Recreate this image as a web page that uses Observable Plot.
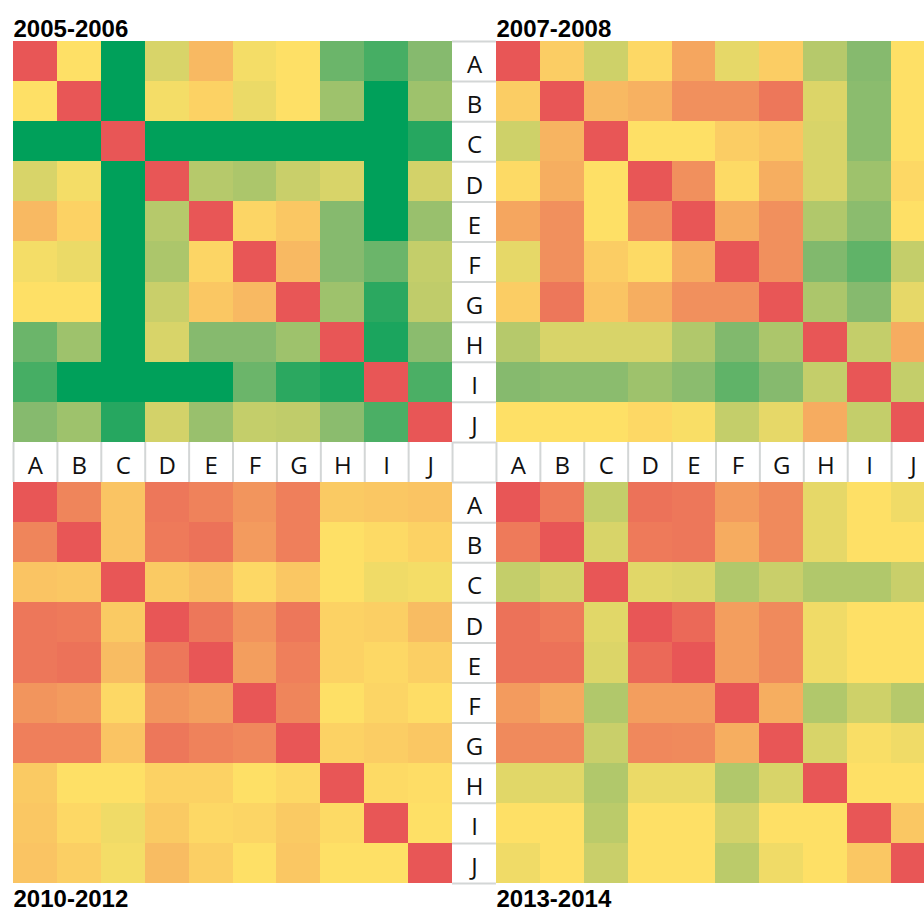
<!DOCTYPE html>
<html>
<head>
<meta charset="utf-8">
<script src="https://cdn.jsdelivr.net/npm/d3@7"></script>
<script src="https://cdn.jsdelivr.net/npm/@observablehq/plot@0.6"></script>
<style>
  html, body { margin: 0; padding: 0; background: white; }
  #chart { width: 924px; height: 913px; overflow: hidden; }
  #chart svg { max-width: none; }
</style>
</head>
<body>
<div id="chart"></div>
<script>
const labels = ["A", "B", "C", "D", "E", "F", "G", "H", "I", "J"];
const periods = ["2005-2006", "2007-2008", "2010-2012", "2013-2014"];

// 0 = red, 50 = yellow, 75 = mid green, 100 = dark green
const v2005 = [
  [0, 50, 100, 58, 36, 52, 50, 80, 87, 75],
  [50, 0, 100, 52, 45, 54, 50, 70, 100, 70],
  [100, 100, 0, 100, 100, 100, 100, 100, 100, 93],
  [58, 52, 100, 0, 65, 67, 61, 58, 100, 59],
  [36, 45, 100, 65, 0, 46, 41, 75, 100, 71],
  [52, 54, 100, 67, 46, 0, 36, 75, 80, 62],
  [50, 50, 100, 61, 41, 36, 0, 70, 92, 63],
  [80, 70, 100, 58, 75, 75, 70, 0, 95, 74],
  [87, 100, 100, 100, 100, 80, 92, 95, 0, 86],
  [75, 70, 93, 59, 71, 62, 63, 74, 86, 0]
];
const v2007 = [
  [0, 43, 60, 47, 29, 55, 43, 65, 75, 50],
  [43, 0, 36, 33, 21, 21, 12, 57, 74, 50],
  [60, 34, 0, 50, 50, 43, 40, 58, 74, 50],
  [48, 32, 50, 0, 21, 48, 32, 58, 70, 47],
  [29, 21, 50, 21, 0, 31, 21, 66, 74, 50],
  [55, 21, 43, 48, 31, 0, 21, 76, 82, 62],
  [43, 12, 40, 32, 21, 21, 0, 67, 75, 55],
  [65, 58, 58, 58, 66, 76, 67, 0, 62, 31],
  [75, 74, 74, 70, 74, 82, 75, 62, 0, 62],
  [50, 50, 50, 47, 51, 62, 55, 31, 62, 0]
];
const v2010 = [
  [0, 17, 40, 12, 16, 23, 15, 42, 41, 40],
  [17, 0, 40, 13, 10, 25, 15, 50, 48, 45],
  [40, 41, 0, 42, 38, 47, 41, 50, 53, 52],
  [12, 13, 42, 0, 12, 22, 12, 45, 44, 37],
  [12, 10, 37, 12, 0, 26, 15, 45, 47, 44],
  [23, 25, 47, 23, 26, 0, 17, 50, 46, 49],
  [15, 15, 40, 12, 16, 18, 0, 45, 43, 41],
  [42, 50, 50, 45, 45, 50, 47, 0, 48, 49],
  [41, 47, 53, 42, 47, 46, 42, 48, 0, 50],
  [40, 44, 52, 37, 44, 50, 41, 50, 50, 0]
];
const v2013 = [
  [0, 13, 62, 10, 12, 25, 19, 55, 50, 53],
  [13, 0, 58, 13, 12, 31, 19, 55, 50, 50],
  [62, 59, 0, 56, 57, 66, 61, 66, 66, 61],
  [10, 13, 56, 0, 7, 26, 19, 53, 50, 50],
  [10, 10, 57, 7, 0, 26, 19, 53, 50, 50],
  [25, 30, 66, 26, 26, 0, 32, 66, 60, 65],
  [19, 19, 61, 18, 19, 32, 0, 58, 51, 53],
  [56, 56, 66, 54, 54, 66, 58, 0, 50, 50],
  [50, 50, 64, 50, 50, 59, 50, 50, 0, 41],
  [53, 50, 61, 50, 50, 64, 53, 50, 41, 0]
];

// layout: 10 cells, 1 label lane, 10 cells in each direction
const n = labels.length;
const mid = n;            // index of the label lane
const total = 2 * n + 1;
const panels = [
  {name: periods[0], values: v2005, col: 0, row: 0, top: true},
  {name: periods[1], values: v2007, col: n + 1, row: 0, top: true},
  {name: periods[2], values: v2010, col: 0, row: n + 1, top: false},
  {name: periods[3], values: v2013, col: n + 1, row: n + 1, top: false}
];

const cells = [];
for (const p of panels) {
  p.values.forEach((rowVals, i) => {
    rowVals.forEach((v, j) => {
      cells.push({
        x1: p.col + j, x2: p.col + j + 1,
        y1: p.row + i, y2: p.row + i + 1,
        row: labels[i], col: labels[j], period: p.name, v
      });
    });
  });
}

const rowLabels = [];
const colLabels = [];
for (const off of [0, n + 1]) {
  labels.forEach((l, i) => {
    rowLabels.push({label: l, y: off + i + 0.5});
    colLabels.push({label: l, x: off + i + 0.5});
  });
}
const boundaries = d3.range(total + 1);

const gridColor = "#d3d6d6";
const labelFont = "Open Sans, Lato, sans-serif";
const titleFont = "Liberation Sans, Arial, sans-serif";

const chart = Plot.plot({
  width: 924,
  height: 913,
  marginTop: 41,
  marginBottom: 30,
  marginLeft: 13,
  marginRight: 0,
  x: {domain: [0, total], range: [13, 935], axis: null},
  y: {domain: [0, total], range: [41, 883], axis: null},
  color: {
    type: "linear",
    domain: [0, 50, 75, 100],
    range: ["#e85656", "#fee066", "#86ba6e", "#00a05a"],
    interpolate: "rgb"
  },
  marks: [
    Plot.ruleY(boundaries, {y: d => d, x1: () => mid, x2: () => mid + 1, stroke: gridColor, strokeWidth: 2}),
    Plot.ruleX(boundaries, {x: d => d, y1: () => mid, y2: () => mid + 1, stroke: gridColor, strokeWidth: 2}),
    Plot.rect(cells, {x1: "x1", x2: "x2", y1: "y1", y2: "y2", fill: "v", shapeRendering: "crispEdges"}),
    Plot.text(rowLabels, {x: () => mid + 0.5, y: "y", text: "label", fontFamily: labelFont, fontSize: 24, fill: "#111", dy: 4}),
    Plot.text(colLabels, {x: "x", y: () => mid + 0.5, text: "label", fontFamily: labelFont, fontSize: 24, fill: "#111", dy: 4}),
    Plot.text(panels.filter(p => p.top), {x: "col", text: "name", frameAnchor: "top", textAnchor: "start", lineAnchor: "bottom", dy: -5, fontFamily: titleFont, fontWeight: "bold", fontSize: 24, fill: "#000"}),
    Plot.text(panels.filter(p => !p.top), {x: "col", text: "name", frameAnchor: "bottom", textAnchor: "start", lineAnchor: "top", dy: 6, fontFamily: titleFont, fontWeight: "bold", fontSize: 24, fill: "#000"})
  ]
});
document.getElementById("chart").appendChild(chart);
</script>
</body>
</html>
